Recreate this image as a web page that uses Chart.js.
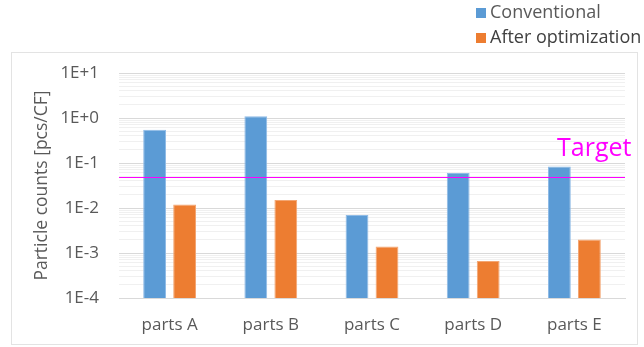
<!DOCTYPE html>
<html>
<head>
<meta charset="utf-8">
<script src="https://cdn.jsdelivr.net/npm/chart.js@4.4.1/dist/chart.umd.min.js"></script>
<style>
  html, body { margin: 0; padding: 0; background: #ffffff; }
  #wrap { position: relative; width: 644px; height: 347px; }
</style>
</head>
<body>
<div id="wrap"><canvas id="chart" width="644" height="347"></canvas></div>
<script>
// Particle counts per part, before and after optimization (log scale)
const categories = ['parts A', 'parts B', 'parts C', 'parts D', 'parts E'];
const conventional = [0.55, 1.1, 0.007, 0.06, 0.084];
const afterOptimization = [0.012, 0.015, 0.0014, 0.00066, 0.002];
const targetValue = 0.05;
const decadeTicks = [1e-4, 1e-3, 1e-2, 1e-1, 1e0, 1e1];
const decadeLabels = ['1E-4', '1E-3', '1E-2', '1E-1', '1E+0', '1E+1'];
const seriesNames = ['Conventional', 'After optimization'];

const FONT = "'Open Sans', 'Noto Sans', sans-serif";
const BLUE = '#5b9bd5';
const ORANGE = '#ed7d31';
const MAGENTA = '#ff00ff';

function isDecade(v) {
  const e = Math.log10(v);
  return Math.abs(e - Math.round(e)) < 1e-9;
}

// Outer frame, target line, target label and the legend
const decorations = {
  id: 'decorations',
  beforeDraw(chart) {
    const ctx = chart.ctx;
    ctx.save();
    ctx.fillStyle = '#ffffff';
    ctx.fillRect(0, 0, chart.width, chart.height);
    ctx.strokeStyle = '#e3e3e3';
    ctx.lineWidth = 1;
    ctx.strokeRect(11.5, 52.5, 626, 292);
    ctx.restore();
  },
  afterDatasetsDraw(chart) {
    const ctx = chart.ctx;
    const area = chart.chartArea;
    const y = Math.round(chart.scales.y.getPixelForValue(targetValue));
    ctx.save();
    ctx.fillStyle = MAGENTA;
    ctx.fillRect(area.left, y, area.right - area.left, 1);
    ctx.font = '25px ' + FONT;
    ctx.textAlign = 'left';
    ctx.textBaseline = 'alphabetic';
    ctx.fillText('Target', 557, 156);
    ctx.restore();
  },
  afterDraw(chart) {
    const ctx = chart.ctx;
    const colors = [BLUE, ORANGE];
    const textColors = ['#595959', '#404040'];
    const rows = [13, 38];
    ctx.save();
    ctx.font = '18px ' + FONT;
    ctx.textBaseline = 'middle';
    ctx.textAlign = 'left';
    chart.data.datasets.forEach((ds, i) => {
      ctx.fillStyle = colors[i];
      ctx.fillRect(476, rows[i] - 5, 10, 10);
      ctx.fillStyle = textColors[i];
      ctx.fillText(ds.label, 490, rows[i]);
    });
    ctx.restore();
  }
};

new Chart(document.getElementById('chart'), {
  type: 'bar',
  data: {
    labels: categories,
    datasets: [
      {
        label: seriesNames[0],
        data: conventional,
        backgroundColor: BLUE,
        borderColor: '#8fbbe6',
        borderWidth: 1,
        barPercentage: 0.76,
        categoryPercentage: 0.593
      },
      {
        label: seriesNames[1],
        data: afterOptimization,
        backgroundColor: ORANGE,
        borderColor: '#f3a673',
        borderWidth: 1,
        barPercentage: 0.76,
        categoryPercentage: 0.593
      }
    ]
  },
  options: {
    responsive: false,
    animation: false,
    layout: { padding: { left: 32, right: 19, top: 73, bottom: 0 } },
    plugins: {
      legend: { display: false },
      tooltip: { enabled: false }
    },
    scales: {
      x: {
        grid: { display: false, drawTicks: false },
        border: { display: true, color: '#d9d9d9', width: 1 },
        ticks: { color: '#595959', font: { family: FONT, size: 17 }, padding: 17 },
        afterFit(scale) { scale.height = 49; }
      },
      y: {
        type: 'logarithmic',
        min: decadeTicks[0],
        max: decadeTicks[decadeTicks.length - 1],
        border: { display: false },
        grid: {
          drawTicks: false,
          color: (c) => (c.tick && isDecade(c.tick.value)) ? '#d9d9d9' : '#f0f0f0',
          lineWidth: 1
        },
        afterBuildTicks(scale) {
          const ticks = [];
          decadeTicks.forEach((d, i) => {
            ticks.push({ value: d });
            if (i < decadeTicks.length - 1) {
              for (let m = 2; m <= 9; m++) ticks.push({ value: d * m });
            }
          });
          scale.ticks = ticks;
        },
        ticks: {
          autoSkip: false,
          color: '#595959',
          font: { family: FONT, size: 17 },
          padding: 20,
          callback(value) {
            const idx = decadeTicks.findIndex(d => Math.abs(d - value) / d < 1e-9);
            return idx >= 0 ? decadeLabels[idx] : '';
          }
        },
        title: {
          display: true,
          text: 'Particle counts [pcs/CF]',
          color: '#595959',
          font: { family: FONT, size: 17.5 },
          padding: 0
        },
        afterFit(scale) { scale.width = 87; }
      }
    }
  },
  plugins: [decorations]
});
</script>
</body>
</html>
